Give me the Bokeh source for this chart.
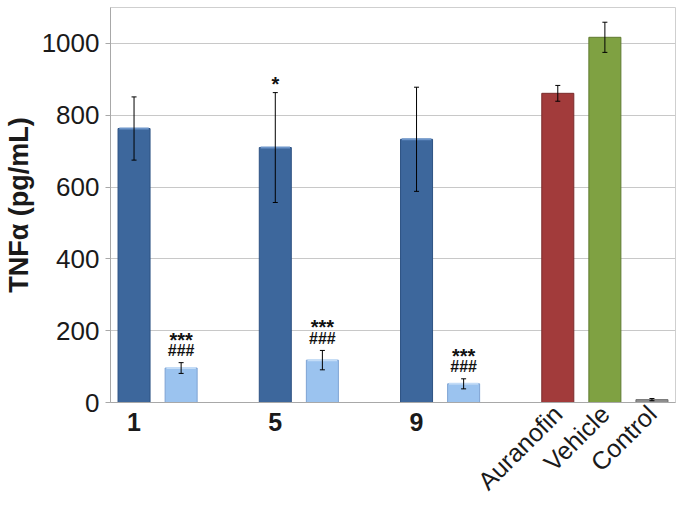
import math
from bokeh.plotting import figure
from bokeh.models import (ColumnDataSource, Whisker, TeeHead, FixedTicker, LinearAxis,
                          Range1d)
from bokeh.core.properties import value
from bokeh.embed import file_html
from bokeh.resources import INLINE

# ---- data ----
groups = ["1", "5", "9"]
compound_mean = [763, 710, 733]
compound_err = [88, 153, 145]
treated_mean = [96, 118, 52]
treated_err = [15, 27, 14]
controls = ["Auranofin", "Vehicle", "Control"]
control_mean = [861, 1017, 8]
control_err = [22, 42, 3]
dark_marks = ["", "*", ""]
light_marks_top = ["***", "***", "***"]
light_marks_bottom = ["###", "###", "###"]
y_ticks = [0, 200, 400, 600, 800, 1000]

FONT = "Liberation Sans"
DARK = "#3D679C"
LIGHT = "#9BC3EF"
CTRL_COLORS = ["#A23B3B", "#7FA142", "#8F8F8F"]
CTRL_LINES = ["#7A2B2B", "#5F7A30", "#6E6E6E"]

n = len(groups)
x_dark = [3 * i + 0.5 for i in range(n)]
x_light = [3 * i + 1.5 for i in range(n)]
x_ctrl = [3 * n + 0.5 + i for i in range(len(controls))]
BW = 0.68

p = figure(width=677, height=507, output_backend="svg", toolbar_location=None,
           x_range=Range1d(0, 3 * n + len(controls)), y_range=Range1d(0, 1100),
           x_axis_location=None,
           min_border_left=110, min_border_right=2, min_border_top=7,
           min_border_bottom=60)
p.background_fill_color = "white"
p.border_fill_color = "white"
p.outline_line_color = "#CFCFCF"
p.outline_line_width = 1

# grid
p.xgrid.visible = False
p.ygrid.grid_line_color = "#C8C8C8"
p.ygrid.grid_line_width = 1

# bars
src_dark = ColumnDataSource(dict(x=x_dark, top=compound_mean,
                                 upper=[m + e for m, e in zip(compound_mean, compound_err)],
                                 lower=[m - e for m, e in zip(compound_mean, compound_err)],
                                 mark=dark_marks))
src_light = ColumnDataSource(dict(x=x_light, top=treated_mean,
                                  upper=[m + e for m, e in zip(treated_mean, treated_err)],
                                  lower=[m - e for m, e in zip(treated_mean, treated_err)],
                                  m1=light_marks_top, m2=light_marks_bottom))
src_ctrl = ColumnDataSource(dict(x=x_ctrl, top=control_mean, color=CTRL_COLORS, lc=CTRL_LINES,
                                 upper=[m + e for m, e in zip(control_mean, control_err)],
                                 lower=[m - e for m, e in zip(control_mean, control_err)],
                                 name=controls))

p.vbar(x="x", top="top", width=BW, bottom=0, source=src_dark,
       fill_color=DARK, line_color="#2D5283", line_width=1)
p.vbar(x="x", top="top", width=BW, bottom=0, source=src_light,
       fill_color=LIGHT, line_color="#7EA3D3", line_width=1)
p.vbar(x="x", top="top", width=BW, bottom=0, source=src_ctrl,
       fill_color="color", line_color="lc", line_width=1)

# top highlight (bevel look)
p.rect(x="x", y="top", width=BW * 0.92, height=2, height_units="screen",
       source=src_dark, fill_color="#6D95C9", line_color=None)
p.rect(x="x", y="top", width=BW * 0.92, height=2, height_units="screen",
       source=src_light, fill_color="#C3DCF7", line_color=None)

# error bars
for s in (src_dark, src_light, src_ctrl):
    w = Whisker(source=s, base="x", upper="upper", lower="lower", dimension="height",
                line_color="black", line_width=1, level="overlay",
                upper_head=TeeHead(size=5, line_color="black", line_width=1),
                lower_head=TeeHead(size=5, line_color="black", line_width=1))
    p.add_layout(w)

# significance marks
p.text(x="x", y="upper", text="mark", source=src_dark, text_font=value(FONT),
       text_font_style="bold", text_font_size="20px", text_align="center",
       text_baseline="alphabetic", y_offset=-9, text_color="#111111")
p.text(x="x", y="upper", text="m2", source=src_light, text_font=value(FONT),
       text_font_style="bold", text_font_size="16px", text_align="center",
       text_baseline="alphabetic", y_offset=-12, text_color="#111111")
p.text(x="x", y="upper", text="m1", source=src_light, text_font=value(FONT),
       text_font_style="bold", text_font_size="20px", text_align="center",
       text_baseline="alphabetic", y_offset=-23, text_color="#111111")

# y axis
p.yaxis.ticker = FixedTicker(ticks=y_ticks)
p.yaxis.axis_label = "TNFα (pg/mL)"
p.yaxis.axis_label_text_font = FONT
p.yaxis.axis_label_text_font_style = "bold"
p.yaxis.axis_label_text_font_size = "27px"
p.yaxis.axis_label_text_color = "#1A1A1A"
p.yaxis.axis_label_standoff = 5
p.yaxis.major_label_text_font = FONT
p.yaxis.major_label_text_font_size = "26px"
p.yaxis.major_label_text_color = "#1A1A1A"
p.yaxis.major_label_standoff = 6
p.yaxis.axis_line_color = "#A8A8A8"
p.yaxis.major_tick_line_color = "#A8A8A8"
p.yaxis.major_tick_out = 5
p.yaxis.major_tick_in = 0
p.yaxis.minor_tick_line_color = None

# x axis 1 (next to the frame): compound numbers
xb = LinearAxis(ticker=FixedTicker(ticks=x_dark),
                major_label_overrides={x: g for x, g in zip(x_dark, groups)})
xb.major_label_text_font = FONT
xb.major_label_text_font_style = "bold"
xb.major_label_text_font_size = "25px"
xb.major_label_text_color = "#1A1A1A"
xb.major_label_standoff = 10
xb.axis_line_color = "#A8A8A8"
xb.major_tick_line_color = None
xb.major_tick_out = 0
xb.major_tick_in = 0
xb.minor_tick_line_color = None
p.add_layout(xb, "below")

# x axis 2: rotated control names, pulled up next to the frame
xa = LinearAxis(ticker=FixedTicker(ticks=x_ctrl),
                major_label_overrides={x: name for x, name in zip(x_ctrl, controls)})
xa.major_label_orientation = math.pi / 4
xa.major_label_text_font = FONT
xa.major_label_text_font_size = "25px"
xa.major_label_text_color = "#1A1A1A"
xa.major_label_standoff = -24
xa.axis_line_color = None
xa.major_tick_line_color = None
xa.major_tick_out = 0
xa.major_tick_in = 0
xa.minor_tick_line_color = None
p.add_layout(xa, "below")

open("out.html", "w").write(file_html(p, INLINE))
